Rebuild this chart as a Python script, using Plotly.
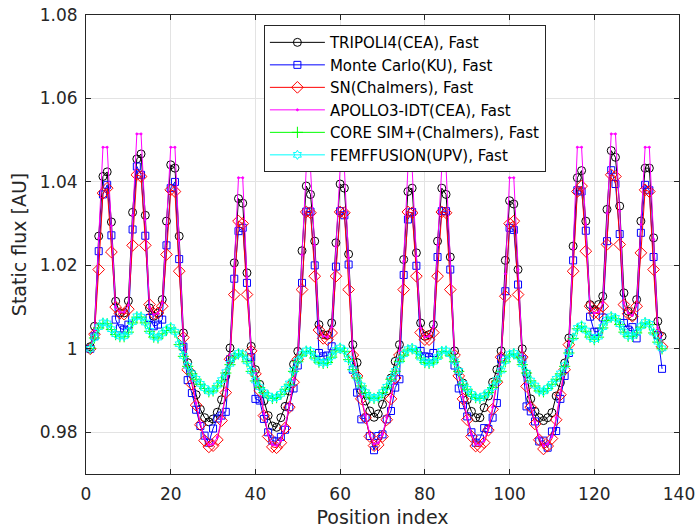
import plotly.graph_objects as go

# ---------------- data ----------------
position = list(range(1, 137))

tripoli4 = [
    1.0005, 1.0054, 1.0270, 1.0413, 1.0424, 1.0304, 1.0114, 1.0086, 1.0086, 1.0115,
    1.0327, 1.0455, 1.0467, 1.0320, 1.0098, 1.0078, 1.0086, 1.0118, 1.0306, 1.0441,
    1.0433, 1.0270, 1.0038, 0.9967, 0.9940, 0.9890, 0.9855, 0.9835, 0.9825, 0.9832,
    0.9848, 0.9878, 0.9935, 1.0002, 1.0206, 1.0360, 1.0349, 1.0182, 1.0006, 0.9950,
    0.9915, 0.9875, 0.9840, 0.9815, 0.9812, 0.9835, 0.9862, 0.9899, 0.9963, 0.9994,
    1.0235, 1.0390, 1.0370, 1.0258, 1.0058, 1.0034, 1.0033, 1.0062, 1.0254, 1.0395,
    1.0385, 1.0227, 1.0010, 0.9967, 0.9900, 0.9875, 0.9851, 0.9836, 0.9844, 0.9867,
    0.9899, 0.9930, 0.9970, 1.0010, 1.0214, 1.0377, 1.0385, 1.0230, 1.0062, 1.0030,
    1.0034, 1.0058, 1.0258, 1.0385, 1.0370, 1.0220, 0.9995, 0.9946, 0.9918, 0.9878,
    0.9850, 0.9835, 0.9835, 0.9859, 0.9887, 0.9920, 0.9950, 0.9995, 1.0212, 1.0355,
    1.0347, 1.0190, 1.0000, 0.9940, 0.9880, 0.9850, 0.9835, 0.9828, 0.9835, 0.9847,
    0.9887, 0.9919, 0.9966, 1.0026, 1.0246, 1.0410, 1.0427, 1.0306, 1.0106, 1.0094,
    1.0106, 1.0126, 1.0334, 1.0475, 1.0459, 1.0342, 1.0134, 1.0090, 1.0078, 1.0118,
    1.0306, 1.0433, 1.0433, 1.0266, 1.0066, 1.0030,
]

monte_carlo_ku = [
    1.0000, 1.0030, 1.0234, 1.0370, 1.0393, 1.0272, 1.0070, 1.0049, 1.0046, 1.0058,
    1.0286, 1.0437, 1.0417, 1.0271, 1.0074, 1.0054, 1.0058, 1.0070, 1.0248, 1.0385,
    1.0400, 1.0215, 1.0005, 0.9925, 0.9894, 0.9854, 0.9815, 0.9792, 0.9775, 0.9809,
    0.9833, 0.9840, 0.9849, 0.9975, 1.0168, 1.0282, 1.0290, 1.0158, 0.9980, 0.9880,
    0.9876, 0.9832, 0.9800, 0.9780, 0.9778, 0.9789, 0.9806, 0.9860, 0.9905, 0.9960,
    1.0158, 1.0329, 1.0329, 1.0200, 0.9990, 0.9982, 0.9984, 1.0006, 1.0197, 1.0330,
    1.0320, 1.0202, 0.9950, 0.9895, 0.9831, 0.9835, 0.9791, 0.9757, 0.9791, 0.9795,
    0.9831, 0.9851, 0.9907, 0.9927, 1.0177, 1.0310, 1.0328, 1.0199, 0.9995, 0.9982,
    0.9980, 0.9990, 1.0220, 1.0330, 1.0330, 1.0190, 0.9960, 0.9905, 0.9865, 0.9838,
    0.9800, 0.9775, 0.9785, 0.9810, 0.9808, 0.9835, 0.9870, 0.9975, 1.0138, 1.0290,
    1.0285, 1.0154, 0.9975, 0.9862, 0.9850, 0.9826, 0.9778, 0.9780, 0.9763, 0.9802,
    0.9803, 0.9880, 0.9935, 0.9990, 1.0212, 1.0380, 1.0377, 1.0283, 1.0077, 1.0041,
    1.0041, 1.0075, 1.0258, 1.0428, 1.0395, 1.0275, 1.0062, 1.0046, 1.0052, 1.0025,
    1.0278, 1.0393, 1.0380, 1.0220, 1.0033, 0.9952,
]

sn_chalmers = [
    1.0000, 1.0035, 1.0190, 1.0373, 1.0385, 1.0232, 1.0100, 1.0085, 1.0083, 1.0095,
    1.0248, 1.0417, 1.0413, 1.0248, 1.0106, 1.0084, 1.0086, 1.0102, 1.0226, 1.0381,
    1.0377, 1.0186, 1.0027, 0.9950, 0.9915, 0.9865, 0.9818, 0.9780, 0.9765, 0.9768,
    0.9782, 0.9828, 0.9895, 0.9975, 1.0130, 1.0306, 1.0300, 1.0130, 0.9995, 0.9940,
    0.9900, 0.9840, 0.9790, 0.9765, 0.9763, 0.9775, 0.9810, 0.9860, 0.9920, 0.9975,
    1.0142, 1.0328, 1.0326, 1.0174, 1.0045, 1.0025, 1.0022, 1.0038, 1.0174, 1.0328,
    1.0326, 1.0142, 0.9985, 0.9935, 0.9880, 0.9835, 0.9790, 0.9768, 0.9770, 0.9790,
    0.9830, 0.9880, 0.9930, 0.9985, 1.0142, 1.0328, 1.0326, 1.0174, 1.0039, 1.0022,
    1.0022, 1.0039, 1.0174, 1.0328, 1.0326, 1.0142, 0.9985, 0.9935, 0.9880, 0.9830,
    0.9790, 0.9767, 0.9765, 0.9775, 0.9805, 0.9855, 0.9920, 0.9980, 1.0126, 1.0300,
    1.0306, 1.0130, 0.9980, 0.9910, 0.9860, 0.9820, 0.9782, 0.9760, 0.9767, 0.9785,
    0.9830, 0.9890, 0.9950, 1.0010, 1.0186, 1.0377, 1.0390, 1.0234, 1.0102, 1.0086,
    1.0084, 1.0102, 1.0250, 1.0417, 1.0413, 1.0250, 1.0106, 1.0084, 1.0078, 1.0102,
    1.0230, 1.0381, 1.0377, 1.0190, 1.0035, 1.0005,
]

apollo3_idt = [
    1.0000, 1.0045, 1.0265, 1.0483, 1.0483, 1.0295, 1.0100, 1.0088, 1.0088, 1.0105,
    1.0320, 1.0515, 1.0515, 1.0310, 1.0100, 1.0082, 1.0085, 1.0110, 1.0295, 1.0483,
    1.0483, 1.0260, 1.0030, 0.9958, 0.9925, 0.9870, 0.9822, 0.9785, 0.9770, 0.9772,
    0.9788, 0.9832, 0.9900, 0.9985, 1.0195, 1.0410, 1.0410, 1.0172, 0.9998, 0.9942,
    0.9902, 0.9845, 0.9795, 0.9770, 0.9768, 0.9780, 0.9815, 0.9865, 0.9925, 0.9985,
    1.0225, 1.0433, 1.0433, 1.0248, 1.0050, 1.0030, 1.0028, 1.0052, 1.0245, 1.0433,
    1.0433, 1.0218, 0.9995, 0.9940, 0.9885, 0.9840, 0.9795, 0.9772, 0.9775, 0.9795,
    0.9835, 0.9885, 0.9935, 0.9995, 1.0210, 1.0433, 1.0433, 1.0222, 1.0050, 1.0028,
    1.0030, 1.0052, 1.0248, 1.0435, 1.0435, 1.0215, 0.9990, 0.9940, 0.9885, 0.9835,
    0.9795, 0.9772, 0.9770, 0.9780, 0.9810, 0.9860, 0.9925, 0.9985, 1.0180, 1.0410,
    1.0410, 1.0190, 0.9985, 0.9915, 0.9865, 0.9825, 0.9788, 0.9768, 0.9772, 0.9790,
    0.9835, 0.9895, 0.9955, 1.0015, 1.0240, 1.0483, 1.0483, 1.0298, 1.0100, 1.0085,
    1.0088, 1.0110, 1.0325, 1.0515, 1.0515, 1.0330, 1.0110, 1.0086, 1.0080, 1.0105,
    1.0298, 1.0483, 1.0483, 1.0262, 1.0050, 1.0015,
]

core_sim_plus = [
    1.0001, 1.0026, 1.0050, 1.0061, 1.0060, 1.0046, 1.0034, 1.0029, 1.0029, 1.0040,
    1.0062, 1.0076, 1.0076, 1.0062, 1.0042, 1.0028, 1.0026, 1.0036, 1.0044, 1.0050,
    1.0040, 1.0010, 0.9982, 0.9958, 0.9940, 0.9927, 0.9915, 0.9905, 0.9897, 0.9899,
    0.9911, 0.9923, 0.9942, 0.9962, 0.9980, 0.9988, 0.9985, 0.9969, 0.9946, 0.9923,
    0.9907, 0.9895, 0.9887, 0.9881, 0.9883, 0.9891, 0.9903, 0.9915, 0.9946, 0.9969,
    0.9985, 0.9994, 0.9993, 0.9978, 0.9968, 0.9965, 0.9967, 0.9980, 0.9995, 1.0001,
    0.9994, 0.9974, 0.9950, 0.9930, 0.9911, 0.9895, 0.9884, 0.9881, 0.9884, 0.9895,
    0.9908, 0.9927, 0.9946, 0.9970, 0.9985, 0.9997, 1.0000, 0.9993, 0.9978, 0.9967,
    0.9965, 0.9968, 0.9978, 0.9993, 0.9994, 0.9985, 0.9969, 0.9946, 0.9915, 0.9903,
    0.9891, 0.9883, 0.9881, 0.9887, 0.9895, 0.9907, 0.9923, 0.9946, 0.9969, 0.9985,
    0.9988, 0.9980, 0.9962, 0.9942, 0.9923, 0.9911, 0.9899, 0.9897, 0.9905, 0.9915,
    0.9927, 0.9940, 0.9958, 0.9990, 1.0025, 1.0048, 1.0054, 1.0042, 1.0028, 1.0022,
    1.0028, 1.0050, 1.0068, 1.0076, 1.0072, 1.0058, 1.0040, 1.0030, 1.0030, 1.0038,
    1.0052, 1.0062, 1.0058, 1.0038, 1.0016, 1.0000,
]

femffusion = [
    1.0000, 1.0027, 1.0052, 1.0063, 1.0061, 1.0047, 1.0035, 1.0030, 1.0030, 1.0041,
    1.0064, 1.0078, 1.0077, 1.0063, 1.0043, 1.0029, 1.0027, 1.0037, 1.0046, 1.0052,
    1.0041, 1.0011, 0.9983, 0.9959, 0.9941, 0.9928, 0.9916, 0.9906, 0.9898, 0.9900,
    0.9912, 0.9925, 0.9944, 0.9964, 0.9982, 0.9990, 0.9987, 0.9970, 0.9947, 0.9924,
    0.9908, 0.9896, 0.9888, 0.9882, 0.9884, 0.9892, 0.9904, 0.9917, 0.9948, 0.9971,
    0.9987, 0.9996, 0.9995, 0.9979, 0.9969, 0.9966, 0.9968, 0.9982, 0.9997, 1.0003,
    0.9996, 0.9975, 0.9951, 0.9931, 0.9912, 0.9896, 0.9885, 0.9882, 0.9885, 0.9896,
    0.9909, 0.9928, 0.9947, 0.9972, 0.9987, 0.9999, 1.0002, 0.9995, 0.9979, 0.9968,
    0.9966, 0.9969, 0.9980, 0.9995, 0.9996, 0.9987, 0.9970, 0.9947, 0.9916, 0.9904,
    0.9892, 0.9884, 0.9882, 0.9888, 0.9896, 0.9908, 0.9925, 0.9948, 0.9971, 0.9987,
    0.9990, 0.9982, 0.9963, 0.9943, 0.9924, 0.9912, 0.9900, 0.9898, 0.9906, 0.9916,
    0.9928, 0.9941, 0.9960, 0.9992, 1.0027, 1.0050, 1.0056, 1.0044, 1.0029, 1.0023,
    1.0029, 1.0052, 1.0070, 1.0078, 1.0074, 1.0059, 1.0041, 1.0031, 1.0031, 1.0039,
    1.0054, 1.0064, 1.0060, 1.0039, 1.0017, 1.0001,
]

series_names = [
    "TRIPOLI4(CEA), Fast",
    "Monte Carlo(KU), Fast",
    "SN(Chalmers), Fast",
    "APOLLO3-IDT(CEA), Fast",
    "CORE SIM+(Chalmers), Fast",
    "FEMFFUSION(UPV), Fast",
]

x_tick_values = [0, 20, 40, 60, 80, 100, 120, 140]
y_tick_values = [0.98, 1.00, 1.02, 1.04, 1.06, 1.08]
y_tick_labels = ["0.98", "1", "1.02", "1.04", "1.06", "1.08"]

# ---------------- styling ----------------
styles = [
    dict(color="rgb(0,0,0)", symbol="circle-open", size=8),
    dict(color="rgb(0,0,255)", symbol="square-open", size=7),
    dict(color="rgb(255,0,0)", symbol="diamond-open", size=9),
    dict(color="rgb(255,0,255)", symbol="circle", size=2),
    dict(color="rgb(0,255,0)", symbol="cross-thin-open", size=8),
    dict(color="rgb(0,255,255)", symbol="hexagram-open", size=7),
]
all_series = [tripoli4, monte_carlo_ku, sn_chalmers, apollo3_idt, core_sim_plus, femffusion]

fig = go.Figure()
for name, vals, st in zip(series_names, all_series, styles):
    fig.add_trace(go.Scatter(
        x=position, y=vals, name=name, mode="lines+markers",
        line=dict(color=st["color"], width=1),
        marker=dict(symbol=st["symbol"], size=st["size"], color=st["color"],
                    line=dict(color=st["color"], width=1)),
    ))

axis_color = "#262626"
font_family = "DejaVu Sans"

fig.update_layout(
    width=700, height=528,
    margin=dict(l=86, r=21, t=15, b=54, autoexpand=False),
    paper_bgcolor="white", plot_bgcolor="white",
    font=dict(family=font_family, size=17, color=axis_color),
    legend=dict(
        x=0.300, y=0.978, xanchor="left", yanchor="top",
        bgcolor="white", bordercolor=axis_color, borderwidth=1,
        font=dict(family=font_family, size=15, color="black"),
        itemwidth=55, tracegroupgap=0,
    ),
    showlegend=True,
)

fig.update_xaxes(
    range=[0, 140], tickvals=x_tick_values, automargin=False,
    showgrid=True, gridcolor="#e3e3e3", gridwidth=1,
    showline=True, linecolor=axis_color, linewidth=1, mirror="ticks",
    ticks="inside", ticklen=5, tickcolor=axis_color, zeroline=False,
    tickfont=dict(size=17, color=axis_color),
    ticklabelstandoff=5,
    title=dict(text="Position index", font=dict(size=19, color=axis_color), standoff=8),
)
fig.update_yaxes(
    range=[0.97, 1.08], tickvals=y_tick_values, ticktext=y_tick_labels, automargin=False,
    showgrid=True, gridcolor="#e3e3e3", gridwidth=1,
    showline=True, linecolor=axis_color, linewidth=1, mirror="ticks",
    ticks="inside", ticklen=5, tickcolor=axis_color, zeroline=False,
    tickfont=dict(size=17, color=axis_color),
    ticklabelstandoff=4,
    title=dict(text="Static flux [AU]", font=dict(size=19, color=axis_color), standoff=8),
)

fig.write_html("out.html")
